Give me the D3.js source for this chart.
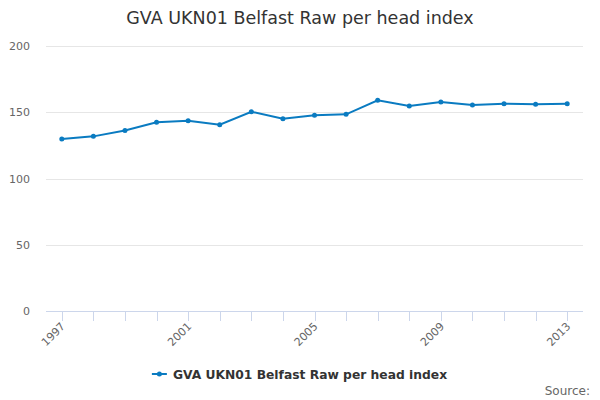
<!DOCTYPE html>
<html><head><meta charset="utf-8">
<script src="https://cdn.jsdelivr.net/npm/d3@7/dist/d3.min.js"></script>
<style>body{margin:0;background:#fff}svg{font-family:"DejaVu Sans",sans-serif}</style>
</head><body>
<svg id="c" width="600" height="400"></svg>
<script>
const years = ["1997","1998","1999","2000","2001","2002","2003","2004","2005","2006","2007","2008","2009","2010","2011","2012","2013"];
const values = [129.8,131.8,136.3,142.4,143.6,140.6,150.4,145.1,147.7,148.4,159.0,154.7,157.7,155.5,156.5,156.0,156.5];
const yTicks = [0,50,100,150,200];
const xLabels = ["1997","2001","2005","2009","2013"];
const seriesName = "GVA UKN01 Belfast Raw per head index";
const title = "GVA UKN01 Belfast Raw per head index";

const svg = d3.select("#c");
const L=46, R=583, T=46, B=311;
const x = d3.scaleBand().domain(years).range([L,R]);
const y = d3.scaleLinear().domain([0,200]).range([B,T]);
const cx = d => x(d)+x.bandwidth()/2;

svg.append("text").attr("x",300).attr("y",24).attr("text-anchor","middle")
  .attr("font-size",17.5).attr("fill","#333").text(title);

// grid
svg.append("g").selectAll("line").data(yTicks.filter(t=>t>0)).join("line")
  .attr("x1",L).attr("x2",R).attr("y1",d=>Math.round(y(d))+0.5).attr("y2",d=>Math.round(y(d))+0.5)
  .attr("stroke","#e6e6e6");
svg.append("g").selectAll("text").data(yTicks).join("text")
  .attr("x",30).attr("y",d=>y(d)+4).attr("text-anchor","end")
  .attr("font-size",11).attr("fill","#666").text(d=>d);

// x axis
svg.append("line").attr("x1",L).attr("x2",R).attr("y1",B+0.5).attr("y2",B+0.5).attr("stroke","#ccd6eb");
svg.append("g").selectAll("line").data(years).join("line")
  .attr("x1",d=>Math.round(cx(d))+0.5).attr("x2",d=>Math.round(cx(d))+0.5)
  .attr("y1",B).attr("y2",B+10).attr("stroke","#ccd6eb");
svg.append("g").selectAll("text").data(xLabels).join("text")
  .attr("transform",d=>`translate(${cx(d)+4},${B+16}) rotate(-45)`)
  .attr("text-anchor","end").attr("font-size",11).attr("fill","#666").text(d=>d);

// line
const line = d3.line().x((d,i)=>cx(years[i])).y(d=>y(d));
svg.append("path").datum(values).attr("d",line).attr("fill","none")
  .attr("stroke","#0a7bc1").attr("stroke-width",2);
svg.append("g").selectAll("circle").data(values).join("circle")
  .attr("cx",(d,i)=>cx(years[i])).attr("cy",d=>y(d)).attr("r",2.5).attr("fill","#0a7bc1");

// legend
const lg = svg.append("g").attr("transform","translate(300,374)");
const lt = lg.append("text").attr("x",10).attr("y",4.5).attr("text-anchor","middle")
  .attr("font-size",12.3).attr("font-weight","bold").attr("fill","#333").text(seriesName);
const bb = lt.node().getBBox();
lg.append("line").attr("x1",bb.x-21).attr("x2",bb.x-6).attr("y1",0).attr("y2",0)
  .attr("stroke","#0a7bc1").attr("stroke-width",2);
lg.append("circle").attr("cx",bb.x-13.5).attr("cy",0).attr("r",2.5).attr("fill","#0a7bc1");

svg.append("text").attr("x",590).attr("y",395).attr("text-anchor","end")
  .attr("font-size",12).attr("fill","#666").text("Source:");
</script>
</body></html>
